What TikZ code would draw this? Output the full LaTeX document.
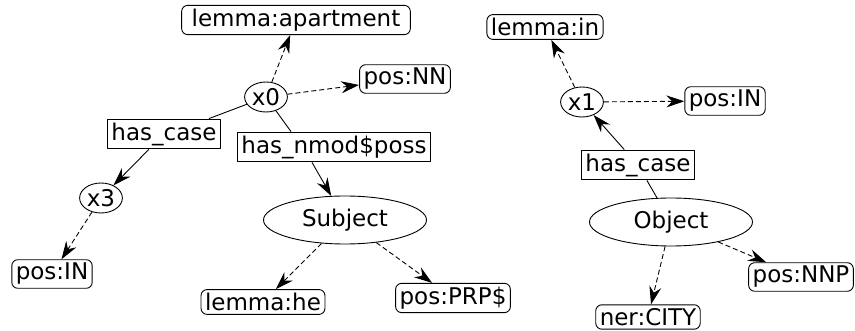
\documentclass[tikz,border=0pt]{standalone}
\usepackage{fontspec}
\setmainfont{DejaVu Sans}
\usetikzlibrary{arrows.meta,shapes.geometric}

\begin{document}
\begin{tikzpicture}[x=1pt,y=-1pt,>={Stealth[length=18pt,width=12pt,inset=6pt]}, font=\fontsize{23}{27}\selectfont, line join=round, line width=0.9pt]
	\tikzset{attr/.style={draw,rounded corners=6pt,inner xsep=4pt,inner ysep=3.5pt},
		rel/.style={draw,inner xsep=4pt,inner ysep=3.5pt},
		var/.style={draw,ellipse,inner sep=1pt,minimum width=42pt,minimum height=30pt},
		ent/.style={draw,ellipse,minimum width=163pt,minimum height=48pt},
		prop/.style={->,dash pattern=on 5pt off 3pt}}
	\useasboundingbox (0,0) rectangle (855,331);
	% left graph
	\node[var] (x0) at (266,97) {x0};
	\node[attr,inner xsep=10pt] (lapt) at (296,20) {lemma:apartment};
	\node[attr] (posnn) at (405,79) {pos:NN};
	\node[rel] (hc1) at (164,134) {has\_case};
	\node[rel] (hnp) at (334,147) {has\_nmod\$poss};
	\node[var] (x3) at (101,198) {x3};
	\node[attr] (posin1) at (52,274) {pos:IN};
	\node[ent] (subj) at (345,220) {Subject};
	\node[attr] (lhe) at (263,302) {lemma:he};
	\node[attr] (posprp) at (453,298) {pos:PRP\$};
	\draw[prop] (x0) -- (lapt);
	\draw[prop] (x0) -- (posnn);
	\draw (x0) -- ([xshift=-12pt]hc1.north east);
	\draw[->] (hc1) -- (x3);
	\draw[prop] (x3) -- (posin1);
	\draw (x0) -- ([xshift=-43pt]hnp.north);
	\draw[->] ([xshift=-22pt]hnp.south) -- (subj);
	\draw[prop] (subj) -- (lhe);
	\draw[prop] (subj) -- (posprp);
	% right graph
	\node[var] (x1) at (582,102) {x1};
	\node[attr] (lin) at (545,27) {lemma:in};
	\node[attr] (posin2) at (725,101) {pos:IN};
	\node[rel] (hc2) at (638,165) {has\_case};
	\node[ent] (obj) at (671,222) {Object};
	\node[attr] (ner) at (648,317) {ner:CITY};
	\node[attr] (posnnp) at (801,277) {pos:NNP};
	\draw (obj) -- (hc2);
	\draw[->] (hc2) -- (x1);
	\draw[prop] (x1) -- (lin);
	\draw[prop] (x1) -- (posin2);
	\draw[prop] (obj) -- (ner);
	\draw[prop] (obj) -- (posnnp);
\end{tikzpicture}
\end{document}
